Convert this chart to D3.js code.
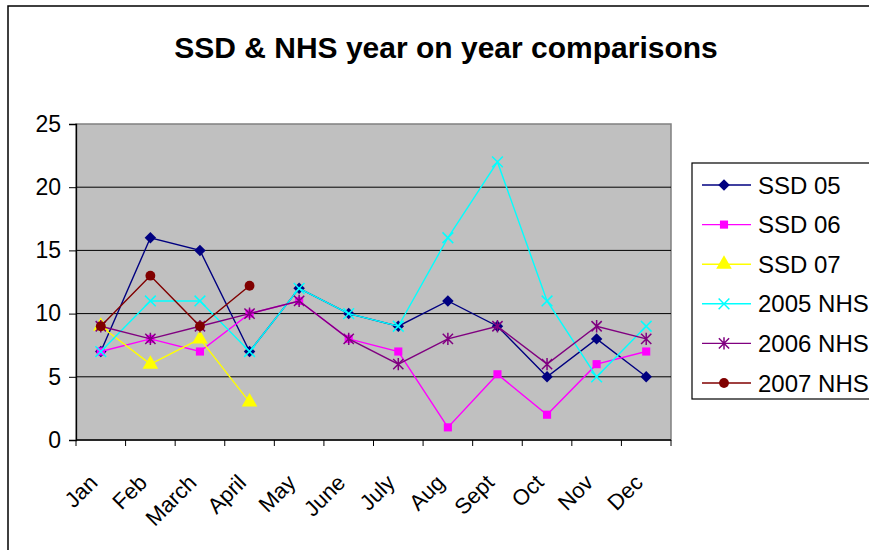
<!DOCTYPE html>
<html>
<head>
<meta charset="utf-8">
<script src="https://cdn.jsdelivr.net/npm/d3@7"></script>
<style>
  html, body { margin: 0; padding: 0; background: #fff; }
  svg { display: block; font-family: "Liberation Sans", Arial, sans-serif; }
</style>
</head>
<body>
<div id="chart"></div>
<script>
// ---- data ----
const months = ['Jan', 'Feb', 'March', 'April', 'May', 'June', 'July', 'Aug', 'Sept', 'Oct', 'Nov', 'Dec'];
const ssd05 = [7, 16, 15, 7, 12, 10, 9, 11, 9, 5, 8, 5];
const ssd06 = [7, 8, 7, 10, 11, 8, 7, 1, 5.2, 2, 6, 7];
const ssd07 = [9, 6, 8, 3];
const nhs2005 = [7, 11, 11, 7, 12, 10, 9, 16, 22, 11, 5, 9];
const nhs2006 = [9, 8, 9, 10, 11, 8, 6, 8, 9, 6, 9, 8];
const nhs2007 = [9, 13, 9, 12.2];
const yTicks = [0, 5, 10, 15, 20, 25];

const width = 869, height = 550;
const plot = { left: 76, right: 671, top: 124, bottom: 440 };

// series list (order = draw order, later on top)
const series = [
  { name: 'SSD 05', values: ssd05, color: '#000080', marker: 'diamond' },
  { name: 'SSD 06', values: ssd06, color: '#FF00FF', marker: 'square' },
  { name: 'SSD 07', values: ssd07, color: '#FFFF00', marker: 'triangle' },
  { name: '2005 NHS', values: nhs2005, color: '#00FFFF', marker: 'x' },
  { name: '2006 NHS', values: nhs2006, color: '#800080', marker: 'asterisk' },
  { name: '2007 NHS', values: nhs2007, color: '#800000', marker: 'circle' }
];

const svg = d3.select('#chart').append('svg')
  .attr('width', width)
  .attr('height', height);

// outer chart frame (runs past right / bottom edge like the screenshot)
svg.append('rect')
  .attr('x', 8).attr('y', 6)
  .attr('width', width + 20).attr('height', height + 20)
  .attr('fill', '#fff')
  .attr('stroke', '#000')
  .attr('stroke-width', 1.5);

// title
svg.append('text')
  .attr('x', 446).attr('y', 58)
  .attr('text-anchor', 'middle')
  .attr('font-size', 30)
  .attr('font-weight', 'bold')
  .text('SSD & NHS year on year comparisons');

// scales
const x = d3.scaleBand()
  .domain(months)
  .range([plot.left, plot.right])
  .padding(0);
const cx = m => x(m) + x.bandwidth() / 2;

const y = d3.scaleLinear()
  .domain([0, 25])
  .range([plot.bottom, plot.top]);

// plot background
svg.append('rect')
  .attr('x', plot.left).attr('y', plot.top)
  .attr('width', plot.right - plot.left)
  .attr('height', plot.bottom - plot.top)
  .attr('fill', '#C0C0C0')
  .attr('stroke', '#808080')
  .attr('stroke-width', 1.5);

// gridlines
svg.append('g')
  .selectAll('line')
  .data(yTicks.filter(t => t > 0 && t < 25))
  .join('line')
    .attr('x1', plot.left).attr('x2', plot.right)
    .attr('y1', d => y(d)).attr('y2', d => y(d))
    .attr('stroke', '#000')
    .attr('stroke-width', 1);

// y axis
svg.append('g')
  .attr('transform', `translate(${plot.left},0)`)
  .call(d3.axisLeft(y).tickValues(yTicks).tickSize(7).tickPadding(8))
  .call(g => g.select('.domain').attr('stroke', '#000').attr('stroke-width', 1.3))
  .call(g => g.selectAll('.tick line').attr('stroke', '#000'))
  .call(g => g.selectAll('text')
    .attr('font-size', 23)
    .attr('fill', '#000')
    .attr('font-family', '"Liberation Sans", Arial, sans-serif'));

// x axis: ticks between categories, labels rotated
const xAxis = svg.append('g');
xAxis.append('line')
  .attr('x1', plot.left).attr('x2', plot.right)
  .attr('y1', plot.bottom).attr('y2', plot.bottom)
  .attr('stroke', '#000').attr('stroke-width', 1.3);
xAxis.selectAll('line.tk')
  .data(months.concat(['__end']))
  .join('line')
    .attr('class', 'tk')
    .attr('x1', (d, i) => plot.left + i * x.bandwidth())
    .attr('x2', (d, i) => plot.left + i * x.bandwidth())
    .attr('y1', plot.bottom).attr('y2', plot.bottom + 6)
    .attr('stroke', '#000');
xAxis.selectAll('text')
  .data(months)
  .join('text')
    .attr('transform', d => `translate(${cx(d) - 2},${plot.bottom + 44}) rotate(-45)`)
    .attr('text-anchor', 'end')
    .attr('font-size', 22)
    .text(d => d);

// marker shapes
const xType = {
  draw(ctx, size) {
    const r = Math.sqrt(size) / 2;
    ctx.moveTo(-r, -r); ctx.lineTo(r, r);
    ctx.moveTo(-r, r); ctx.lineTo(r, -r);
  }
};
const starType = {
  draw(ctx, size) {
    const r = Math.sqrt(size) / 2;
    ctx.moveTo(0, -r * 1.2); ctx.lineTo(0, r * 1.2);
    ctx.moveTo(-r, -r); ctx.lineTo(r, r);
    ctx.moveTo(-r, r); ctx.lineTo(r, -r);
  }
};
function markerPath(kind) {
  switch (kind) {
    case 'diamond': return d3.symbol(d3.symbolSquare, 66)();
    case 'square': return d3.symbol(d3.symbolSquare, 66)();
    case 'triangle': return d3.symbol(d3.symbolTriangle, 105)();
    case 'circle': return d3.symbol(d3.symbolCircle, 76)();
    case 'x': return d3.symbol(xType, 115)();
    case 'asterisk': return d3.symbol(starType, 105)();
  }
}
const isStroke = k => k === 'x' || k === 'asterisk';
function drawMarker(g, kind, color) {
  const p = g.append('path').attr('d', markerPath(kind));
  if (kind === 'diamond') p.attr('transform', 'rotate(45)');
  if (isStroke(kind)) p.attr('fill', 'none').attr('stroke', color).attr('stroke-width', 1.5);
  else p.attr('fill', color);
}

const line = d3.line()
  .x(d => cx(d.m))
  .y(d => y(d.v));

// series
series.forEach(s => {
  const pts = s.values.map((v, i) => ({ m: months[i], v }));
  const g = svg.append('g');
  g.append('path')
    .datum(pts)
    .attr('d', line)
    .attr('fill', 'none')
    .attr('stroke', s.color)
    .attr('stroke-width', 1.4);
  g.selectAll('g.pt')
    .data(pts)
    .join('g')
      .attr('class', 'pt')
      .attr('transform', d => `translate(${cx(d.m)},${y(d.v)})`)
      .each(function () { drawMarker(d3.select(this), s.marker, s.color); });
});

// legend
const legend = svg.append('g');
legend.append('rect')
  .attr('x', 692).attr('y', 163)
  .attr('width', 200).attr('height', 236)
  .attr('fill', '#fff')
  .attr('stroke', '#000')
  .attr('stroke-width', 1.2);
series.forEach((s, i) => {
  const ly = 185 + i * 39.6;
  const row = legend.append('g');
  row.append('line')
    .attr('x1', 702).attr('x2', 751)
    .attr('y1', ly).attr('y2', ly)
    .attr('stroke', s.color).attr('stroke-width', 1.4);
  drawMarker(row.append('g').attr('transform', `translate(724,${ly})`), s.marker, s.color);
  row.append('text')
    .attr('x', 758).attr('y', ly + 8.5)
    .attr('font-size', 24)
    .text(s.name);
});
</script>
</body>
</html>
